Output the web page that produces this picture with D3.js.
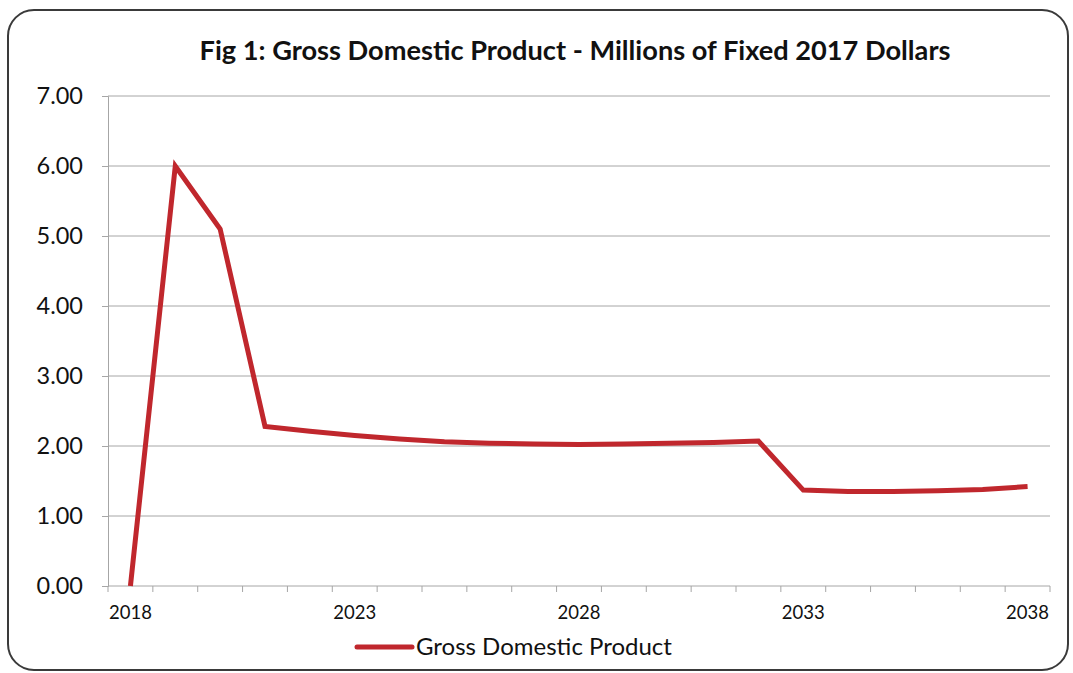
<!DOCTYPE html>
<html>
<head>
<meta charset="utf-8">
<script src="https://cdn.jsdelivr.net/npm/d3@7"></script>
<style>
  html, body { margin: 0; padding: 0; background: #fff; }
  svg { display: block; }
</style>
</head>
<body>
<svg id="chart" width="1073" height="673"></svg>
<script>
// Gross Domestic Product, millions of fixed 2017 dollars
const years = d3.range(2018, 2039).map(String);
const gdpValues = [0.00, 6.00, 5.10, 2.28, 2.21, 2.15, 2.10, 2.06, 2.04, 2.03, 2.02,
                   2.03, 2.04, 2.05, 2.07, 1.37, 1.35, 1.35, 1.36, 1.38, 1.42];
const yTicks = [0, 1, 2, 3, 4, 5, 6, 7];
const xTickLabels = ["2018", "2023", "2028", "2033", "2038"];
const seriesName = "Gross Domestic Product";
const titleText = "Fig 1: Gross Domestic Product - Millions of Fixed 2017 Dollars";

const svg = d3.select("#chart");
const font = "Lato, 'Open Sans', sans-serif";
const margin = { left: 108, right: 1050, top: 96, bottom: 586 };

// outer frame
svg.append("rect")
  .attr("x", 8).attr("y", 10).attr("width", 1060).attr("height", 660)
  .attr("rx", 26).attr("ry", 26)
  .attr("fill", "#fff").attr("stroke", "#3a3a3a").attr("stroke-width", 2);

svg.append("text")
  .attr("x", 575).attr("y", 60)
  .attr("text-anchor", "middle")
  .attr("font-family", font).attr("font-weight", 700).attr("font-size", 27.2)
  .attr("fill", "#111")
  .text(titleText);

const x = d3.scaleBand().domain(years).range([margin.left, margin.right]);
const y = d3.scaleLinear().domain([0, 7]).range([margin.bottom, margin.top]);

// horizontal gridlines
svg.append("g").selectAll("line").data(yTicks.filter(d => d > 0)).join("line")
  .attr("x1", margin.left).attr("x2", margin.right)
  .attr("y1", d => y(d)).attr("y2", d => y(d))
  .attr("stroke", "#a6a6a6").attr("stroke-width", 1);

// y axis
const yAxis = svg.append("g")
  .attr("transform", `translate(${margin.left},0)`)
  .call(d3.axisLeft(y).tickValues(yTicks).tickFormat(d3.format(".2f")).tickSize(6).tickPadding(19));
yAxis.select(".domain").attr("stroke", "#a6a6a6");
yAxis.selectAll(".tick line").attr("stroke", "#a6a6a6");
yAxis.selectAll("text").attr("font-family", font).attr("font-size", 23.5).attr("fill", "#111");

// x axis: ticks on category boundaries, labels every five years
const xAxisG = svg.append("g").attr("transform", `translate(0,${margin.bottom})`);
xAxisG.append("line")
  .attr("x1", margin.left).attr("x2", margin.right)
  .attr("stroke", "#a6a6a6");
const bounds = years.map(d => x(d)).concat([margin.right]);
xAxisG.selectAll(".tk").data(bounds).join("line")
  .attr("class", "tk")
  .attr("x1", d => d).attr("x2", d => d).attr("y1", 0).attr("y2", 6)
  .attr("stroke", "#a6a6a6");
xAxisG.selectAll("text").data(xTickLabels).join("text")
  .attr("x", d => x(d) + x.bandwidth() / 2)
  .attr("y", 33)
  .attr("text-anchor", "middle")
  .attr("font-family", font).attr("font-size", 18.5).attr("fill", "#111")
  .text(d => d);

// data line
const line = d3.line()
  .x((d, i) => x(years[i]) + x.bandwidth() / 2)
  .y(d => y(d));
svg.append("path")
  .datum(gdpValues)
  .attr("d", line)
  .attr("fill", "none")
  .attr("stroke", "#c0272d")
  .attr("stroke-width", 5)
  .attr("stroke-linejoin", "miter");

// legend
const lg = svg.append("g").attr("transform", "translate(357,647)");
lg.append("line").attr("x1", 0).attr("x2", 55).attr("y1", 0).attr("y2", 0)
  .attr("stroke", "#c0272d").attr("stroke-width", 5).attr("stroke-linecap", "round");
lg.append("text").attr("x", 59).attr("y", 8)
  .attr("font-family", font).attr("font-size", 24).attr("fill", "#111")
  .text(seriesName);
</script>
</body>
</html>
